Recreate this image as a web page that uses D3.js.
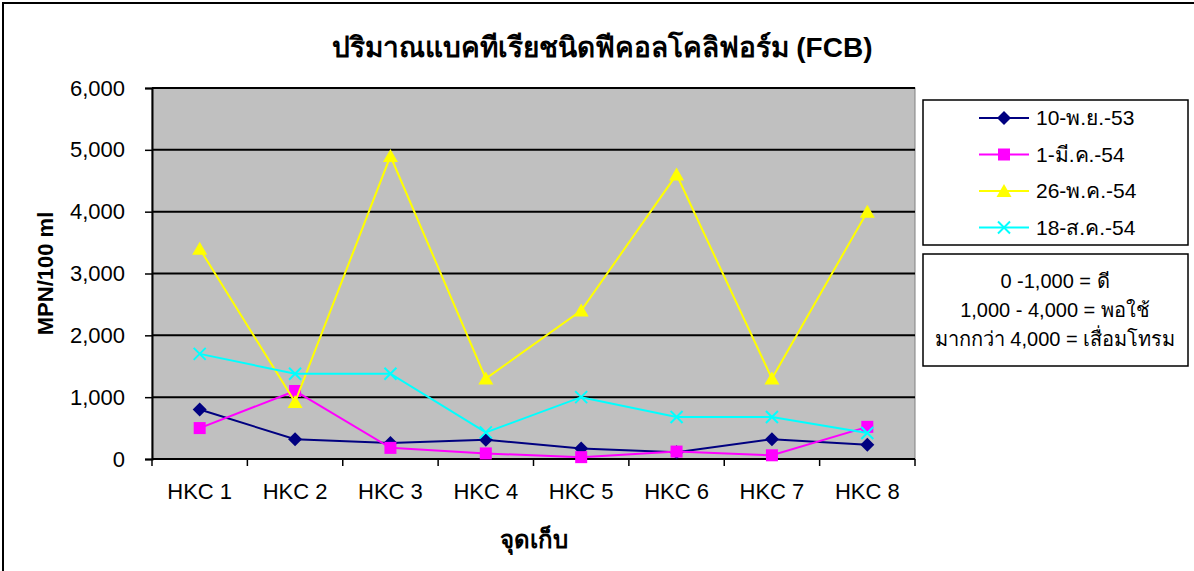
<!DOCTYPE html>
<html>
<head>
<meta charset="utf-8">
<script src="https://cdn.jsdelivr.net/npm/d3@7"></script>
<style>
  body { margin: 0; background: #fff; }
  text { font-family: "Liberation Sans", Arial, "Noto Sans", sans-serif; }
</style>
</head>
<body>
<svg width="1194" height="571"></svg>
<script>
// data
categories = ["HKC 1","HKC 2","HKC 3","HKC 4","HKC 5","HKC 6","HKC 7","HKC 8"];
seriesNames = ["10-พ.ย.-53","1-มี.ค.-54","26-พ.ค.-54","18-ส.ค.-54"];
nov53 = [800, 320, 260, 310, 170, 110, 320, 230];
mar54 = [500, 1100, 180, 90, 30, 120, 60, 520];
may54 = [3400, 920, 4900, 1300, 2400, 4600, 1300, 4000];
aug54 = [1700, 1380, 1380, 430, 1000, 680, 680, 420];
yTicks = [0, 1000, 2000, 3000, 4000, 5000, 6000];
noteLines = ["0 -1,000 = ดี", "1,000 - 4,000 = พอใช้", "มากกว่า 4,000 = เสื่อมโทรม"];

colors = ["#000080", "#FF00FF", "#FFFF00", "#00FFFF"];
shapes = ["diamond", "square", "triangle", "cross"];
allSeries = [nov53, mar54, may54, aug54];

svg = d3.select("svg");

// outer chart frame
svg.append("rect")
  .attr("x", 3).attr("y", 3).attr("width", 1200).attr("height", 600)
  .attr("fill", "#fff").attr("stroke", "#000").attr("stroke-width", 2);

L = 152; R = 915; T = 88; B = 459;
xs = d3.scaleBand().domain(categories).range([L, R]);
ys = d3.scaleLinear().domain([0, 6000]).range([B, T]);

// plot area
svg.append("rect")
  .attr("x", L).attr("y", T).attr("width", R - L).attr("height", B - T)
  .attr("fill", "#C0C0C0").attr("stroke", "#808080").attr("stroke-width", 1);

// gridlines
svg.append("g").selectAll("line").data(yTicks.slice(1)).enter().append("line")
  .attr("x1", L).attr("x2", R)
  .attr("y1", d => ys(d)).attr("y2", d => ys(d))
  .attr("stroke", "#000").attr("stroke-width", 2);

// y axis
svg.append("g")
  .attr("transform", "translate(" + L + ",0)")
  .call(d3.axisLeft(ys).tickValues(yTicks).tickFormat(d3.format(",")).tickSize(7).tickPadding(20))
  .call(g => g.select(".domain").attr("stroke-width", 2))
  .call(g => g.selectAll(".tick line").attr("stroke-width", 1.5))
  .call(g => g.selectAll("text").attr("font-size", 22).attr("fill", "#000")
    .style("font-family", "'Liberation Sans', Arial, sans-serif"));

// x axis (ticks between categories)
xa = svg.append("g").attr("transform", "translate(0," + B + ")");
xa.append("line").attr("x1", L).attr("x2", R).attr("stroke", "#000").attr("stroke-width", 2);
xa.selectAll("line.tk").data(categories).enter().append("line")
  .attr("class", "tk")
  .attr("x1", d => xs(d) + xs.bandwidth()).attr("x2", d => xs(d) + xs.bandwidth())
  .attr("y1", 0).attr("y2", 7).attr("stroke", "#000").attr("stroke-width", 1.5);
xa.append("line").attr("x1", L).attr("x2", L).attr("y1", 0).attr("y2", 7).attr("stroke", "#000").attr("stroke-width", 1.5);
xa.selectAll("text").data(categories).enter().append("text")
  .attr("x", d => xs(d) + xs.bandwidth() / 2).attr("y", 40)
  .attr("text-anchor", "middle").attr("font-size", 22).text(d => d);

// symbols
function marker(sel, shape, color, cx, cy) {
  if (shape === "diamond") {
    sel.append("path").attr("d", "M0,-7L7,0L0,7L-7,0Z")
      .attr("transform", "translate(" + cx + "," + cy + ")").attr("fill", color);
  } else if (shape === "square") {
    sel.append("rect").attr("x", cx - 6).attr("y", cy - 6).attr("width", 12).attr("height", 12).attr("fill", color);
  } else if (shape === "triangle") {
    sel.append("path").attr("d", "M0,-7L7.5,6L-7.5,6Z")
      .attr("transform", "translate(" + cx + "," + cy + ")").attr("fill", color);
  } else {
    sel.append("path").attr("d", "M-6,-6L6,6M-6,6L6,-6")
      .attr("transform", "translate(" + cx + "," + cy + ")")
      .attr("stroke", color).attr("stroke-width", 2).attr("fill", "none");
  }
}

line = d3.line().x((d, i) => xs(categories[i]) + xs.bandwidth() / 2).y(d => ys(d));
allSeries.forEach(function(vals, k) {
  g = svg.append("g");
  g.append("path").datum(vals).attr("d", line)
    .attr("fill", "none").attr("stroke", colors[k]).attr("stroke-width", 2);
  vals.forEach(function(v, i) {
    marker(g, shapes[k], colors[k], xs(categories[i]) + xs.bandwidth() / 2, ys(v));
  });
});

// title
svg.append("text").attr("x", 602).attr("y", 57).attr("text-anchor", "middle")
  .attr("font-size", 28).attr("font-weight", "bold")
  .text("ปริมาณแบคทีเรียชนิดฟีคอลโคลิฟอร์ม (FCB)");

// axis titles
svg.append("text").attr("transform", "translate(53," + ((T + B) / 2) + ") rotate(-90)")
  .attr("text-anchor", "middle").attr("font-size", 22).attr("font-weight", "bold")
  .text("MPN/100 ml");
svg.append("text").attr("x", (L + R) / 2).attr("y", 548).attr("text-anchor", "middle")
  .attr("font-size", 24).attr("font-weight", "bold").text("จุดเก็บ");

// legend
lg = svg.append("g");
lg.append("rect").attr("x", 923).attr("y", 100).attr("width", 265).attr("height", 145)
  .attr("fill", "#fff").attr("stroke", "#000").attr("stroke-width", 1.5);
seriesNames.forEach(function(name, k) {
  ly = 118 + k * 36.5;
  lg.append("line").attr("x1", 979).attr("x2", 1029).attr("y1", ly).attr("y2", ly)
    .attr("stroke", colors[k]).attr("stroke-width", 2);
  marker(lg, shapes[k], colors[k], 1004, ly);
  lg.append("text").attr("x", 1036).attr("y", ly).attr("dy", "0.35em")
    .attr("font-size", 21).text(name);
});

// note box
nb = svg.append("g");
nb.append("rect").attr("x", 923).attr("y", 254).attr("width", 265).attr("height", 112)
  .attr("fill", "#fff").attr("stroke", "#000").attr("stroke-width", 1.5);
noteLines.forEach(function(t, i) {
  nb.append("text").attr("x", 1055).attr("y", 281 + i * 29).attr("dy", "0.35em")
    .attr("text-anchor", "middle").attr("font-size", 20).text(t);
});
</script>
</body>
</html>
